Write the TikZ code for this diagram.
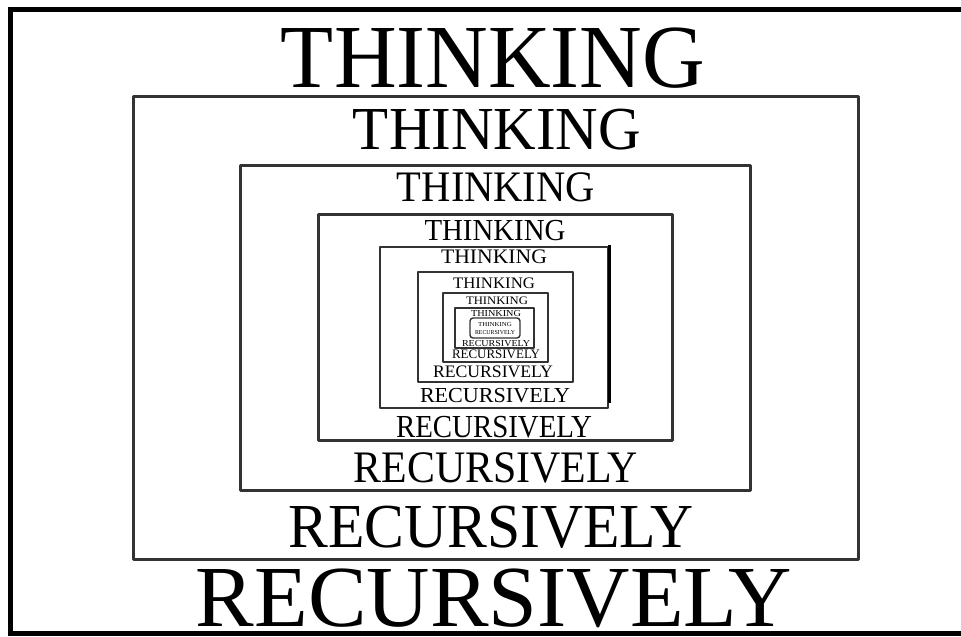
\documentclass[tikz,border=0pt]{standalone}
\usepackage{fontspec}
\usepackage{graphicx}
\newfontfamily\lbfont{Liberation Serif}
% #1 = visible width, #2 = cap height (both in picture units = pt), #3 = text
\newcommand\fitT[3]{\begingroup\lbfont\fontsize{\fpeval{#2/0.655}}{\fpeval{#2/0.655}}\selectfont\resizebox{#1pt}{\height}{#3}\endgroup}
\definecolor{boxc}{HTML}{333333}
\tikzset{
  lbl/.style={anchor=base, inner sep=0pt, outer sep=0pt, text=black},
  boxline/.style={draw=boxc, line width=3pt, line join=round},
  thinbox/.style={draw=boxc, line width=2pt, line join=round},
  frame/.style={draw=black, line width=5pt},
}
\begin{document}
\begin{tikzpicture}[x=1pt, y=-1pt]
\useasboundingbox (0,0) rectangle (961,637);
\fill[white] (0,0) rectangle (961,637);
% outer frame (open on the right)
\draw[frame] (961,9) -- (10.5,9) -- (10.5,633.5) -- (961,633.5);
% boxes
\draw[boxline] (133,96) rectangle (858,559);
\draw[boxline] (240,165) rectangle (750,490);
\draw[boxline] (318,214) rectangle (672,440);
\draw[thinbox] (380,247) rectangle (608,408);
\draw[black, line width=3pt] (609,245) -- (609,403);
\draw[thinbox] (418,272) rectangle (573,382);
\draw[thinbox] (443,293) rectangle (548,362);
\draw[thinbox, line width=1.6pt] (455,308) rectangle (534,348);
\draw[thinbox, line width=1.4pt, rounded corners=3pt] (470,318) rectangle (520,338);
% texts
\node[lbl] (t0) at (493,87) {\fitT{424}{59}{THINKING}};
\node[lbl] (r0) at (494,626) {\fitT{596}{57}{RECURSIVELY}};
\node[lbl] (t1) at (497,149) {\fitT{288}{40}{THINKING}};
\node[lbl] (r1) at (491,547) {\fitT{405}{41}{RECURSIVELY}};
\node[lbl] (t2) at (496,201) {\fitT{198}{28.5}{THINKING}};
\node[lbl] (r2) at (496,482) {\fitT{284}{29.5}{RECURSIVELY}};
\node[lbl] (t3) at (495,240) {\fitT{141}{20}{THINKING}};
\node[lbl] (r3) at (494,437) {\fitT{196}{21}{RECURSIVELY}};
\node[lbl] (t4) at (494,263) {\fitT{106}{13.5}{THINKING}};
\node[lbl] (r4) at (495,402) {\fitT{150}{14}{RECURSIVELY}};
\node[lbl] (t5) at (494,288) {\fitT{82}{10.5}{THINKING}};
\node[lbl] (r5) at (493,377) {\fitT{120}{11.5}{RECURSIVELY}};
\node[lbl] (t6) at (497,304) {\fitT{62}{7.5}{THINKING}};
\node[lbl] (r6) at (496,358) {\fitT{88}{8.5}{RECURSIVELY}};
\node[lbl] (t7) at (496,316) {\fitT{50}{6}{THINKING}};
\node[lbl] (r7) at (496,346) {\fitT{68}{6}{RECURSIVELY}};
\node[lbl] (t8) at (495,326) {\fitT{34}{4}{THINKING}};
\node[lbl] (r8) at (495,334) {\fitT{40}{4}{RECURSIVELY}};
\end{tikzpicture}
\end{document}
